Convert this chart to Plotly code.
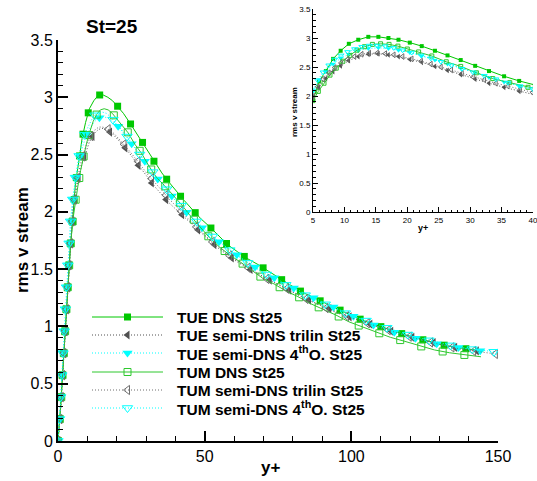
import numpy as np
import plotly.graph_objects as go

W, H = 537, 481

# ---------------- data ----------------
# wall-normal grid points (y+) of the three data sets
yp_tue = [0.0, 0.4, 0.88, 1.41, 2.0, 2.65, 3.36, 4.14, 5.0, 5.95, 7.05, 8.2, 9.4, 10.7,
          12.2, 13.8, 15.4, 17.0, 18.6, 20.4, 22.3, 24.4, 26.4, 28.5, 30.8, 33.0, 35.4,
          37.8, 40.3, 43.0, 45.8, 48.7, 51.7, 54.8, 58.0, 61.3, 64.7, 68.2, 71.8, 75.5,
          79.3, 83.2, 87.2, 91.3, 95.5, 99.8, 104.2, 108.7, 113.3, 118.0, 122.8, 127.7,
          132.7, 137.8, 143.0, 145.0]

yp_tum_dns = [0.0, 0.45, 0.95, 1.5, 2.1, 2.75, 3.45, 4.2, 5.0, 5.85, 6.75, 7.7, 8.7, 9.75,
              10.85, 12.0, 13.2, 14.45, 15.75, 17.1, 18.5, 20.0, 21.8, 23.9, 26.2, 28.5,
              31.0, 33.6, 36.3, 39.2, 42.2, 45.3, 48.5, 51.8, 55.2, 58.7, 62.3, 66.0, 69.8,
              73.7, 77.7, 81.8, 86.0, 90.3, 94.7, 99.2, 103.8, 108.5, 113.3, 118.2, 123.2,
              128.3, 133.5, 138.8, 144.2]

yp_tum_semi = [0.0, 0.35, 0.75, 1.2, 1.7, 2.25, 2.85, 3.5, 4.2, 4.95, 5.75, 6.6, 7.5, 8.45,
               9.45, 10.5, 11.6, 12.75, 13.95, 15.2, 16.5, 17.85, 19.25, 20.7, 22.2, 23.75,
               25.35, 27.0, 28.7, 30.45, 32.25, 34.1, 36.0, 37.95, 39.95, 42.5, 45.5, 48.7,
               52.0, 55.4, 58.9, 62.5, 66.2, 70.0, 73.9, 77.9, 82.0, 86.2, 90.5, 94.9, 99.4,
               104.0, 108.7, 113.5, 118.4, 123.4, 128.5, 133.7, 139.0, 144.4, 150.0]

rms_tue_dns = [0.0, 0.12, 0.3, 0.52, 0.78, 1.06, 1.36, 1.66, 1.93, 2.25, 2.43, 2.64, 2.78,
               2.90, 2.97, 3.02, 3.02, 3.0, 2.97, 2.92, 2.86, 2.78, 2.70, 2.62, 2.52, 2.43,
               2.34, 2.26, 2.18, 2.10, 2.02, 1.94, 1.87, 1.79, 1.71, 1.65, 1.59, 1.54, 1.48,
               1.42, 1.36, 1.30, 1.25, 1.20, 1.15, 1.10, 1.05, 1.01, 0.97, 0.93, 0.895, 0.86,
               0.83, 0.81, 0.79, 0.785]

rms_tue_trilin = [0.0, 0.1, 0.27, 0.5, 0.76, 1.05, 1.36, 1.67, 1.98, 2.15, 2.30, 2.42, 2.52,
                  2.61, 2.68, 2.72, 2.73, 2.71, 2.68, 2.63, 2.58, 2.51, 2.44, 2.37, 2.29,
                  2.22, 2.15, 2.08, 2.02, 1.96, 1.89, 1.82, 1.75, 1.68, 1.62, 1.56, 1.51,
                  1.46, 1.41, 1.36, 1.31, 1.26, 1.21, 1.17, 1.12, 1.08, 1.04, 1.00, 0.96,
                  0.925, 0.89, 0.86, 0.83, 0.805, 0.785, 0.78]

rms_tue_4th = [0.0, 0.13, 0.33, 0.57, 0.84, 1.13, 1.45, 1.76, 2.08, 2.28, 2.42, 2.55, 2.65,
               2.72, 2.78, 2.82, 2.83, 2.82, 2.79, 2.75, 2.69, 2.62, 2.55, 2.48, 2.40, 2.32,
               2.24, 2.17, 2.09, 2.02, 1.94, 1.87, 1.80, 1.74, 1.68, 1.62, 1.56, 1.50, 1.45,
               1.40, 1.35, 1.30, 1.25, 1.20, 1.15, 1.10, 1.05, 1.00, 0.96, 0.925, 0.89,
               0.855, 0.83, 0.81, 0.79, 0.785]

rms_tum_dns = [0.0, 0.13, 0.31, 0.55, 0.82, 1.1, 1.4, 1.68, 1.92, 2.08, 2.22, 2.36, 2.48,
               2.6, 2.7, 2.79, 2.85, 2.89, 2.9, 2.89, 2.86, 2.81, 2.76, 2.69, 2.59, 2.51,
               2.40, 2.30, 2.23, 2.15, 2.06, 1.96, 1.87, 1.77, 1.69, 1.62, 1.56, 1.49, 1.42,
               1.37, 1.31, 1.26, 1.20, 1.15, 1.10, 1.04, 0.995, 0.95, 0.905, 0.87, 0.83,
               0.795, 0.77, 0.75, 0.735]

rms_tum_trilin = [0.0, 0.09, 0.23, 0.42, 0.64, 0.89, 1.16, 1.44, 1.72, 1.99, 2.16, 2.29,
                  2.40, 2.49, 2.57, 2.63, 2.68, 2.72, 2.74, 2.74, 2.73, 2.71, 2.68, 2.64,
                  2.60, 2.55, 2.50, 2.45, 2.39, 2.33, 2.28, 2.22, 2.17, 2.11, 2.06, 1.99,
                  1.91, 1.83, 1.75, 1.68, 1.61, 1.55, 1.49, 1.43, 1.38, 1.33, 1.27, 1.22,
                  1.17, 1.12, 1.08, 1.04, 1.00, 0.96, 0.92, 0.885, 0.85, 0.82, 0.795, 0.775,
                  0.757]

rms_tum_4th = [0.0, 0.12, 0.3, 0.52, 0.77, 1.04, 1.33, 1.62, 1.9, 2.1, 2.27, 2.41, 2.53,
               2.63, 2.7, 2.76, 2.81, 2.85, 2.87, 2.87, 2.86, 2.83, 2.79, 2.75, 2.70, 2.65,
               2.59, 2.53, 2.47, 2.41, 2.35, 2.29, 2.23, 2.17, 2.12, 2.04, 1.96, 1.88, 1.80,
               1.73, 1.66, 1.59, 1.53, 1.47, 1.41, 1.36, 1.30, 1.25, 1.20, 1.15, 1.10, 1.06,
               1.02, 0.975, 0.935, 0.90, 0.865, 0.835, 0.81, 0.79, 0.775]

series_names = ["TUE DNS St25", "TUE semi-DNS trilin St25", "TUE semi-DNS 4<sup>th</sup>O. St25",
                "TUM DNS St25", "TUM semi-DNS trilin St25", "TUM semi-DNS 4<sup>th</sup>O. St25"]

main_x_ticks = [0, 50, 100, 150]
inset_x_ticks = [5, 10, 15, 20, 25, 30, 35, 40]
y_ticks = [0, 0.5, 1, 1.5, 2, 2.5, 3, 3.5]
y_tick_text = ["0", "0.5", "1", "1.5", "2", "2.5", "3", "3.5"]

# ---------------- styling ----------------
GREEN = "#00c800"
GREEN2 = "#2ec82e"
CYAN = "#00ffff"
DGRAY = "#505050"
MGRAY = "#6e6e6e"
FONT = "Liberation Sans, Arial, Helvetica, sans-serif"
DOTS = "1px,2px"

styles = [
    dict(color=GREEN, dash="solid", symbol="square", msize=7),
    dict(color=DGRAY, dash=DOTS, symbol="triangle-left", msize=8),
    dict(color=CYAN, dash=DOTS, symbol="triangle-down", msize=9),
    dict(color=GREEN2, dash="solid", symbol="square-open", msize=7),
    dict(color=MGRAY, dash=DOTS, symbol="triangle-left-open", msize=8),
    dict(color=CYAN, dash=DOTS, symbol="triangle-down-open", msize=9),
]
data = [(yp_tue, rms_tue_dns), (yp_tue, rms_tue_trilin), (yp_tue, rms_tue_4th),
        (yp_tum_dns, rms_tum_dns), (yp_tum_semi, rms_tum_trilin), (yp_tum_semi, rms_tum_4th)]

# pixel boxes of the two frames
MAIN_PX = (58, 498)
MAIN_PY = (441, 40)
INS_PX = (313, 533)
INS_PY = (212, 9)
MAIN_XR, MAIN_YR = (0, 150), (0, 3.5)
INS_XR, INS_YR = (5, 40), (0, 3.5)


def symbols_along(x, y, step=22.0):
    """Symbols spaced evenly (in screen pixels) along the polyline of the main frame."""
    x = np.asarray(x, float)
    y = np.asarray(y, float)
    sx = (MAIN_PX[1] - MAIN_PX[0]) / (MAIN_XR[1] - MAIN_XR[0])
    sy = (MAIN_PY[0] - MAIN_PY[1]) / (MAIN_YR[1] - MAIN_YR[0])
    seg = np.hypot(np.diff(x) * sx, np.diff(y) * sy)
    s = np.concatenate([[0.0], np.cumsum(seg)])
    t = np.arange(0.0, s[-1], step)
    return np.interp(t, s, x), np.interp(t, s, y)


def marker_dict(st, size):
    open_ = st["symbol"].endswith("open")
    return dict(symbol=st["symbol"], size=size, color=st["color"],
                line=dict(color=st["color"], width=1 if open_ else 0))


fig = go.Figure()

for (xs, ys), st, name in zip(data, styles, series_names):
    # main frame: line through every grid point
    fig.add_trace(go.Scatter(x=xs, y=ys, mode="lines", xaxis="x", yaxis="y",
                             line=dict(color=st["color"], width=1, dash=st["dash"]),
                             showlegend=False, hoverinfo="skip"))
    mx, my = symbols_along(xs, ys)
    fig.add_trace(go.Scatter(x=mx, y=my, mode="markers", xaxis="x", yaxis="y",
                             marker=marker_dict(st, st["msize"]), name=name,
                             showlegend=False))
    # inset: symbol at every grid point
    fig.add_trace(go.Scatter(x=xs, y=ys, mode="lines+markers", xaxis="x2", yaxis="y2",
                             line=dict(color=st["color"], width=1, dash=st["dash"]),
                             marker=marker_dict(st, 4 if "square" in st["symbol"] else 5),
                             showlegend=False, hoverinfo="skip"))

# legend keys drawn in a full-page pixel frame
leg_rows = [317, 335, 353, 372, 390, 408]
leg_x0, leg_x1, leg_xt = 92, 163, 175
for row, st, name in zip(leg_rows, styles, series_names):
    fig.add_trace(go.Scatter(x=[leg_x0, (leg_x0 + leg_x1) / 2, leg_x1], y=[row, row, row],
                             mode="lines", xaxis="x3", yaxis="y3",
                             line=dict(color=st["color"], width=1, dash=st["dash"]),
                             showlegend=False, hoverinfo="skip"))
    fig.add_trace(go.Scatter(x=[(leg_x0 + leg_x1) / 2], y=[row], mode="markers",
                             xaxis="x3", yaxis="y3", marker=marker_dict(st, st["msize"]),
                             showlegend=False, hoverinfo="skip"))


def label(x, y, text, size, angle=0, xanchor="center"):
    return dict(x=x / W, y=1 - y / H, xref="paper", yref="paper", text=text,
                textangle=angle, showarrow=False, xanchor=xanchor, yanchor="middle",
                font=dict(family=FONT, size=size, color="black"))


annotations = [label(leg_xt, row, "<b>" + name + "</b>", 15.5, xanchor="left")
               for row, name in zip(leg_rows, series_names)]
annotations += [
    label(112, 26, "<b>St=25</b>", 19),
    label(270, 467, "<b>y+</b>", 17),
    label(22, 240, "<b>rms v stream</b>", 17, angle=-90),
    label(423, 228, "<b>y+</b>", 9),
    label(294, 112, "<b>rms v stream</b>", 8, angle=-90),
]


def frame_axis(domain, rng, tickvals, ticktext, major_len, minor_dtick, minor_len,
               lw, fsize, anchor):
    return dict(domain=domain, range=list(rng), anchor=anchor, automargin=False,
                showline=True, linecolor="black", linewidth=lw, mirror=False,
                ticks="inside", ticklen=major_len, tickwidth=lw, tickcolor="black",
                tickvals=tickvals, ticktext=ticktext, ticklabeloverflow="allow",
                minor=dict(ticks="inside", ticklen=minor_len, tickwidth=1,
                           tickcolor="black", dtick=minor_dtick, tick0=0, showgrid=False),
                showgrid=False, zeroline=False,
                tickfont=dict(family=FONT, size=fsize, color="black"))


main_x_dom = [MAIN_PX[0] / W, MAIN_PX[1] / W]
main_y_dom = [1 - MAIN_PY[0] / H, 1 - MAIN_PY[1] / H]
ins_x_dom = [INS_PX[0] / W, INS_PX[1] / W]
ins_y_dom = [1 - INS_PY[0] / H, 1 - INS_PY[1] / H]

fig.update_layout(
    width=W, height=H, margin=dict(l=0, r=0, t=0, b=0, autoexpand=False),
    paper_bgcolor="white", plot_bgcolor="rgba(0,0,0,0)",
    showlegend=False,
    xaxis=frame_axis(main_x_dom, MAIN_XR, main_x_ticks, [str(v) for v in main_x_ticks],
                     10, 10, 5, 2, 16, "y"),
    yaxis=frame_axis(main_y_dom, MAIN_YR, y_ticks, y_tick_text, 10, 0.1, 5, 2, 16, "x"),
    xaxis2=frame_axis(ins_x_dom, INS_XR, inset_x_ticks, [str(v) for v in inset_x_ticks],
                      5, 1, 2.5, 1, 8, "y2"),
    yaxis2=frame_axis(ins_y_dom, INS_YR, y_ticks, y_tick_text, 5, 0.1, 2.5, 1, 8, "x2"),
    xaxis3=dict(domain=[0, 1], range=[0, W], visible=False, anchor="y3", fixedrange=True,
                automargin=False),
    yaxis3=dict(domain=[0, 1], range=[H, 0], visible=False, anchor="x3", fixedrange=True,
                automargin=False),
    annotations=annotations,
)

fig.write_html("out.html")
